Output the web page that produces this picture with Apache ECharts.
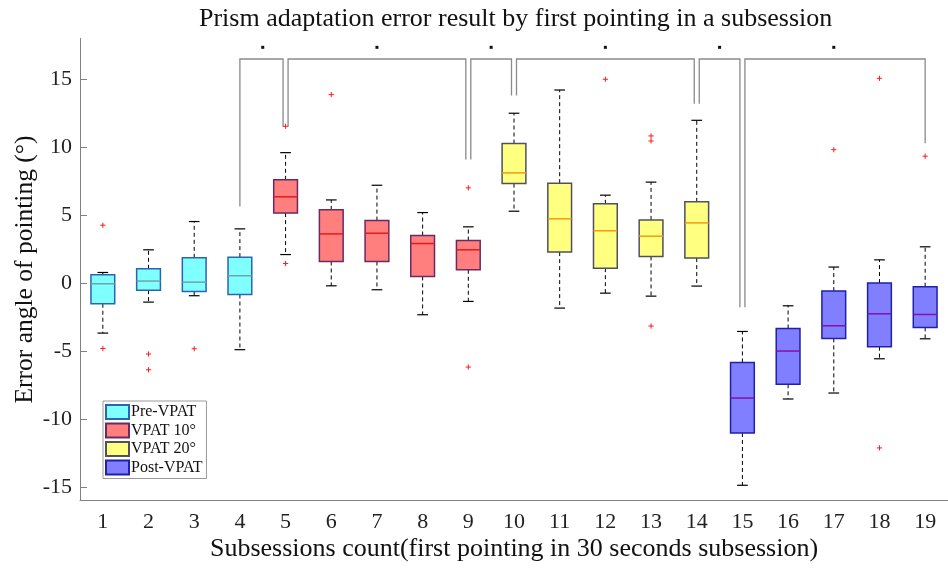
<!DOCTYPE html>
<html>
<head>
<meta charset="utf-8">
<script src="https://cdn.jsdelivr.net/npm/echarts@6/dist/echarts.min.js"></script>
<style>html,body{margin:0;padding:0;background:#fff}#c{width:948px;height:569px}</style>
</head>
<body>
<div id="c"></div>
<script>
const categories = ['1','2','3','4','5','6','7','8','9','10','11','12','13','14','15','16','17','18','19'];
const groupNames = ['Pre-VPAT', 'VPAT 10°', 'VPAT 20°', 'Post-VPAT'];
const yTicks = [-15, -10, -5, 0, 5, 10, 15];
// [subsession, lowerWhisker, Q1, median, Q3, upperWhisker]
const preVPAT = [
  [1, -3.68, -1.52, -0.05, 0.61, 0.78],
  [2, -1.40, -0.52, 0.15, 1.05, 2.45],
  [3, -0.93, -0.61, 0.07, 1.86, 4.53],
  [4, -4.90, -0.84, 0.54, 1.91, 3.99]
];
const vpat10 = [
  [5, 2.10, 5.15, 6.35, 7.60, 9.60],
  [6, -0.20, 1.59, 3.62, 5.39, 6.12],
  [7, -0.49, 1.59, 3.67, 4.60, 7.20],
  [8, -2.33, 0.49, 2.91, 3.50, 5.19],
  [9, -1.35, 0.98, 2.45, 3.13, 4.14]
];
const vpat20 = [
  [10, 5.29, 7.32, 8.11, 10.27, 12.50],
  [11, -1.84, 2.28, 4.73, 7.35, 14.21],
  [12, -0.74, 1.10, 3.85, 5.83, 6.47],
  [13, -0.96, 1.96, 3.45, 4.65, 7.43],
  [14, -0.22, 1.84, 4.43, 5.98, 11.98]
];
const postVPAT = [
  [15, -14.88, -11.03, -8.46, -5.84, -3.56],
  [16, -8.53, -7.45, -5.00, -3.34, -1.67],
  [17, -8.09, -4.07, -3.14, -0.59, 1.18],
  [18, -5.57, -4.68, -2.26, 0.00, 1.71],
  [19, -4.10, -3.26, -2.31, -0.27, 2.67]
];
// [subsession, value]
const outliers = [
  [1, 4.26], [1, -4.81], [2, -5.22], [2, -6.38], [3, -4.83],
  [5, 11.54], [5, 1.44], [6, 13.87], [9, 7.01], [9, -6.18],
  [12, 15.0], [13, 10.83], [13, 10.46], [13, -3.16],
  [17, 9.82], [18, 15.07], [18, -12.13], [19, 9.34]
];
// [from, to, left drop, right drop]
const sigBrackets = [
  [4, 5, 5.63, 11.5],
  [5, 9, 11.5, 9.1],
  [9, 10, 9.1, 13.8],
  [10, 14, 13.8, 13.2],
  [14, 15, 13.2, -1.77],
  [15, 19, -1.77, 10.29]
];
const bracketLevel = 16.49;
const starLevel = 17.35;

const SERIF = "'Liberation Serif', 'DejaVu Serif', serif";
const styles = [
  {fill: '#80ffff', border: '#2a64b4', median: '#6fa5a5'},
  {fill: '#ff7f7f', border: '#6a2a62', median: '#e41a1a'},
  {fill: '#ffff80', border: '#50505f', median: '#f59a10'},
  {fill: '#7f7fff', border: '#2020a8', median: '#8a10a0'}
];
const groups = [preVPAT, vpat10, vpat20, postVPAT];

function boxRender(st) {
  return function (params, api) {
    const idx = api.value(0);
    const band = api.size([1, 0])[0];
    const w = band * 0.52;
    const cap = w * 0.45;
    const p = k => api.coord([idx, api.value(k)]);
    const pMin = p(1), pQ1 = p(2), pMed = p(3), pQ3 = p(4), pMax = p(5);
    const x = pMed[0];
    const dash = {stroke: '#000', lineWidth: 1, lineDash: [4, 3]};
    const solid = {stroke: '#000', lineWidth: 1.2};
    return {
      type: 'group',
      children: [
        {type: 'line', shape: {x1: x, y1: pQ1[1], x2: x, y2: pMin[1]}, style: dash},
        {type: 'line', shape: {x1: x, y1: pQ3[1], x2: x, y2: pMax[1]}, style: dash},
        {type: 'line', shape: {x1: x - cap / 2, y1: pMin[1], x2: x + cap / 2, y2: pMin[1]}, style: solid},
        {type: 'line', shape: {x1: x - cap / 2, y1: pMax[1], x2: x + cap / 2, y2: pMax[1]}, style: solid},
        {type: 'rect', shape: {x: x - w / 2, y: pQ3[1], width: w, height: pQ1[1] - pQ3[1]},
          style: {fill: st.fill, stroke: st.border, lineWidth: 1.5}},
        {type: 'line', shape: {x1: x - w / 2, y1: pMed[1], x2: x + w / 2, y2: pMed[1]},
          style: {stroke: st.median, lineWidth: 1.5}}
      ]
    };
  };
}

const series = groups.map((g, i) => ({
  type: 'custom',
  name: groupNames[i],
  renderItem: boxRender(styles[i]),
  encode: {x: 0, y: [1, 2, 3, 4, 5]},
  itemStyle: {color: styles[i].fill, borderColor: styles[i].border, borderWidth: 1},
  data: g.map(d => [d[0] - 1, d[1], d[2], d[3], d[4], d[5]])
}));

series.push({
  type: 'custom',
  name: 'outliers',
  renderItem: function (params, api) {
    const c = api.coord([api.value(0), api.value(1)]);
    const s = 2.6;
    const st = {stroke: '#ff1a1a', lineWidth: 1};
    return {type: 'group', children: [
      {type: 'line', shape: {x1: c[0] - s, y1: c[1], x2: c[0] + s, y2: c[1]}, style: st},
      {type: 'line', shape: {x1: c[0], y1: c[1] - s, x2: c[0], y2: c[1] + s}, style: st}
    ]};
  },
  encode: {x: 0, y: 1},
  data: outliers.map(d => [d[0] - 1, d[1]]),
  z: 5
});

series.push({
  type: 'custom',
  name: 'significance',
  renderItem: function (params, api) {
    const i = params.dataIndex;
    const n = sigBrackets.length;
    const a = api.value(0), b = api.value(1);
    const offL = i === 0 ? 0 : 2.5;
    const offR = i === n - 1 ? 0 : 2.5;
    const pL = api.coord([a, api.value(2)]);
    const pR = api.coord([b, api.value(3)]);
    const yTop = api.coord([a, bracketLevel])[1];
    const yStar = api.coord([a, starLevel])[1];
    const xL = pL[0] + offL, xR = pR[0] - offR;
    return {type: 'group', children: [
      {type: 'polyline', shape: {points: [[xL, pL[1]], [xL, yTop], [xR, yTop], [xR, pR[1]]]},
        style: {stroke: '#8a8a8a', lineWidth: 1.3, fill: null}},
      {type: 'rect', shape: {x: (pL[0] + pR[0]) / 2 - 1.5, y: yStar - 1.5, width: 3, height: 3},
        style: {fill: '#111'}}
    ]};
  },
  encode: {x: [0, 1], y: [2, 3]},
  data: sigBrackets.map(d => [d[0] - 1, d[1] - 1, d[2], d[3]]),
  clip: false
});

const chart = echarts.init(document.getElementById('c'), null, {renderer: 'canvas'});
chart.setOption({
  animation: false,
  backgroundColor: '#fff',
  title: {
    text: 'Prism adaptation error result by first pointing in a subsession',
    left: 199,
    top: 1,
    padding: [5, 5, 5, 0],
    textStyle: {fontFamily: SERIF, fontSize: 26, fontWeight: 'normal', color: '#111'}
  },
  legend: {
    data: groupNames,
    orient: 'vertical',
    left: 103,
    top: 401,
    icon: 'rect',
    itemWidth: 23,
    itemHeight: 14,
    itemGap: 2.5,
    padding: [3, 4, 3, 2],
    borderColor: '#9a9a9a',
    borderWidth: 1,
    backgroundColor: '#fff',
    textStyle: {fontFamily: SERIF, fontSize: 16, color: '#111', padding: [0, 0, 0, -3]}
  },
  grid: {left: 80, top: 38.5, right: -9.4, bottom: 68.5, containLabel: false},
  xAxis: {
    type: 'category',
    data: categories,
    boundaryGap: true,
    name: 'Subsessions count(first pointing in 30 seconds subsession)',
    nameLocation: 'middle',
    nameGap: 36,
    nameMoveOverlap: false,
    nameTextStyle: {fontFamily: SERIF, fontSize: 26, color: '#111'},
    axisLine: {onZero: false, lineStyle: {color: '#808080', width: 1}},
    axisTick: {inside: true, length: 7, alignWithLabel: true, lineStyle: {color: '#808080'}},
    axisLabel: {fontFamily: SERIF, fontSize: 22, color: '#222', margin: 11},
    splitLine: {show: false}
  },
  yAxis: {
    type: 'value',
    min: -16,
    max: 18,
    name: 'Error angle of pointing (°)',
    nameLocation: 'middle',
    nameRotate: 90,
    nameGap: 42,
    nameMoveOverlap: false,
    nameTextStyle: {fontFamily: SERIF, fontSize: 25.5, color: '#111'},
    axisLine: {show: true, lineStyle: {color: '#808080', width: 1}},
    axisTick: {show: true, inside: true, length: 7, customValues: yTicks, lineStyle: {color: '#808080'}},
    axisLabel: {fontFamily: SERIF, fontSize: 22, color: '#222', margin: 8, customValues: yTicks},
    splitLine: {show: false}
  },
  series: series
});
</script>
</body>
</html>
